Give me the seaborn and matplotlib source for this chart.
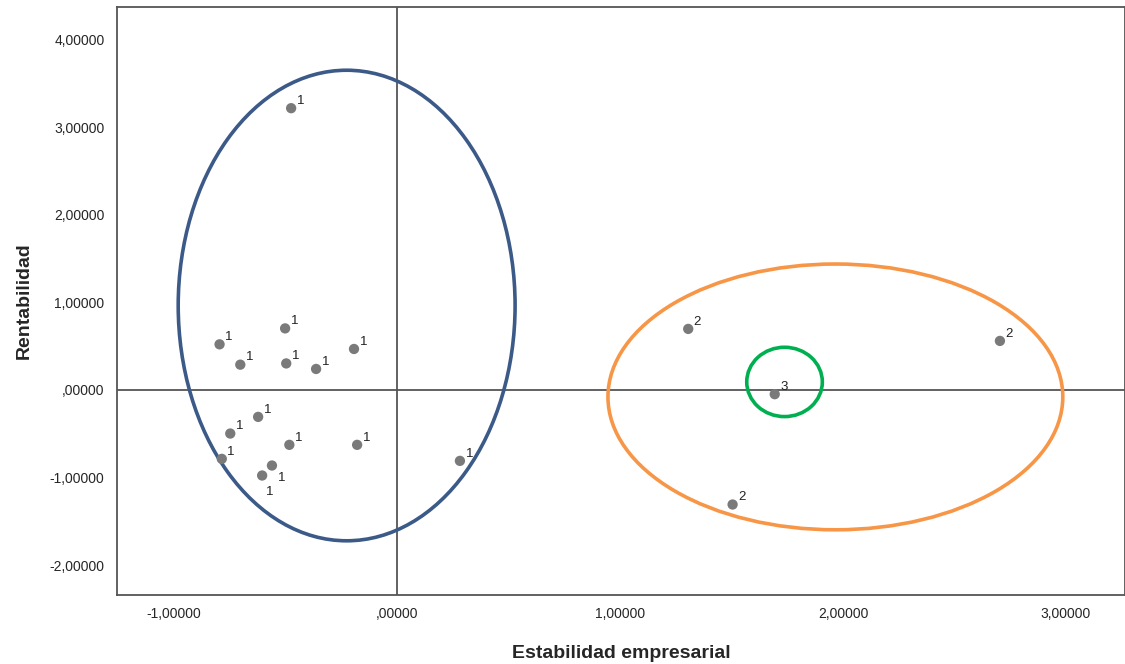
import numpy as np
import pandas as pd
import seaborn as sns
import matplotlib
matplotlib.use("Agg")
from matplotlib import pyplot as plt
from matplotlib.patches import Ellipse

#### puntos (estabilidad, rentabilidad) y cluster asignado
estabilidad = [-0.475, -0.502, -0.796, -0.703, -0.497, -0.363, -0.193, -0.623, -0.748,
               -0.483, -0.179, -0.786, -0.561, -0.605, 0.282,
               1.306, 2.704, 1.505,
               1.694]
rentabilidad = [3.215, 0.702, 0.520, 0.288, 0.302, 0.239, 0.467, -0.308, -0.498,
                -0.627, -0.627, -0.787, -0.863, -0.977, -0.810,
                0.696, 0.559, -1.308,
                -0.049]
cluster = [1] * 15 + [2] * 3 + [3]

#### elipses de cada cluster: centro x, centro y, ancho, alto
elipse_cx = [-0.226, 1.966, 1.738]
elipse_cy = [0.963, -0.080, 0.091]
elipse_w = [1.511, 2.040, 0.339]
elipse_h = [5.37, 3.033, 0.791]
elipse_col = ["#3c5a88", "#f79646", "#00b050"]

x_ticks = [-1, 0, 1, 2, 3]
y_ticks = [-2, -1, 0, 1, 2, 3, 4]


def fmt(v):
    s = "{:.5f}".format(v).replace(".", ",")
    if s.startswith("0,"):
        s = s[1:]
    elif s.startswith("-0,"):
        s = "-" + s[2:]
    return s


df = pd.DataFrame({"Estabilidad empresarial": estabilidad,
                   "Rentabilidad": rentabilidad,
                   "cluster": cluster})

sns.set_style("white")
plt.rcParams["font.family"] = ["Liberation Sans", "DejaVu Sans"]

fig = plt.figure(figsize=(11.25, 6.64), dpi=100)
ax = fig.add_axes([0.104, 0.104, 0.896, 0.8855])

ax.axvline(0, color="#555555", lw=1.3, zorder=1)
ax.axhline(0, color="#555555", lw=1.3, zorder=1)

sns.scatterplot(data=df, x="Estabilidad empresarial", y="Rentabilidad",
                color="#7a7a7a", s=55, edgecolor="none", ax=ax, zorder=3)

# etiquetas de cluster junto a cada punto
abajo = {12: (4, -11), 13: (3, -14)}
for i in range(len(df)):
    off = abajo.get(i, (4, 3))
    ax.annotate(str(cluster[i]), (estabilidad[i], rentabilidad[i]),
                xytext=off, textcoords="offset points", fontsize=9.5, color="#222222")

for cx, cy, w, h, c in zip(elipse_cx, elipse_cy, elipse_w, elipse_h, elipse_col):
    ax.add_patch(Ellipse((cx, cy), w, h, fill=False, edgecolor=c, lw=2.6, zorder=2))

ax.set_xlim(-1.256, 3.265)
ax.set_ylim(-2.34, 4.37)
ax.set_xticks(x_ticks)
ax.set_yticks(y_ticks)
ax.set_xticklabels([fmt(v) for v in x_ticks], fontsize=10)
ax.set_yticklabels([fmt(v) for v in y_ticks], fontsize=10)
ax.tick_params(length=0, pad=9)

ax.set_xlabel("Estabilidad empresarial", fontsize=14, fontweight="bold", labelpad=17)
ax.set_ylabel("Rentabilidad", fontsize=14, fontweight="bold", labelpad=12)

for s in ax.spines.values():
    s.set_color("#555555")
    s.set_linewidth(1.3)

plt.savefig("out.png", dpi=100)
